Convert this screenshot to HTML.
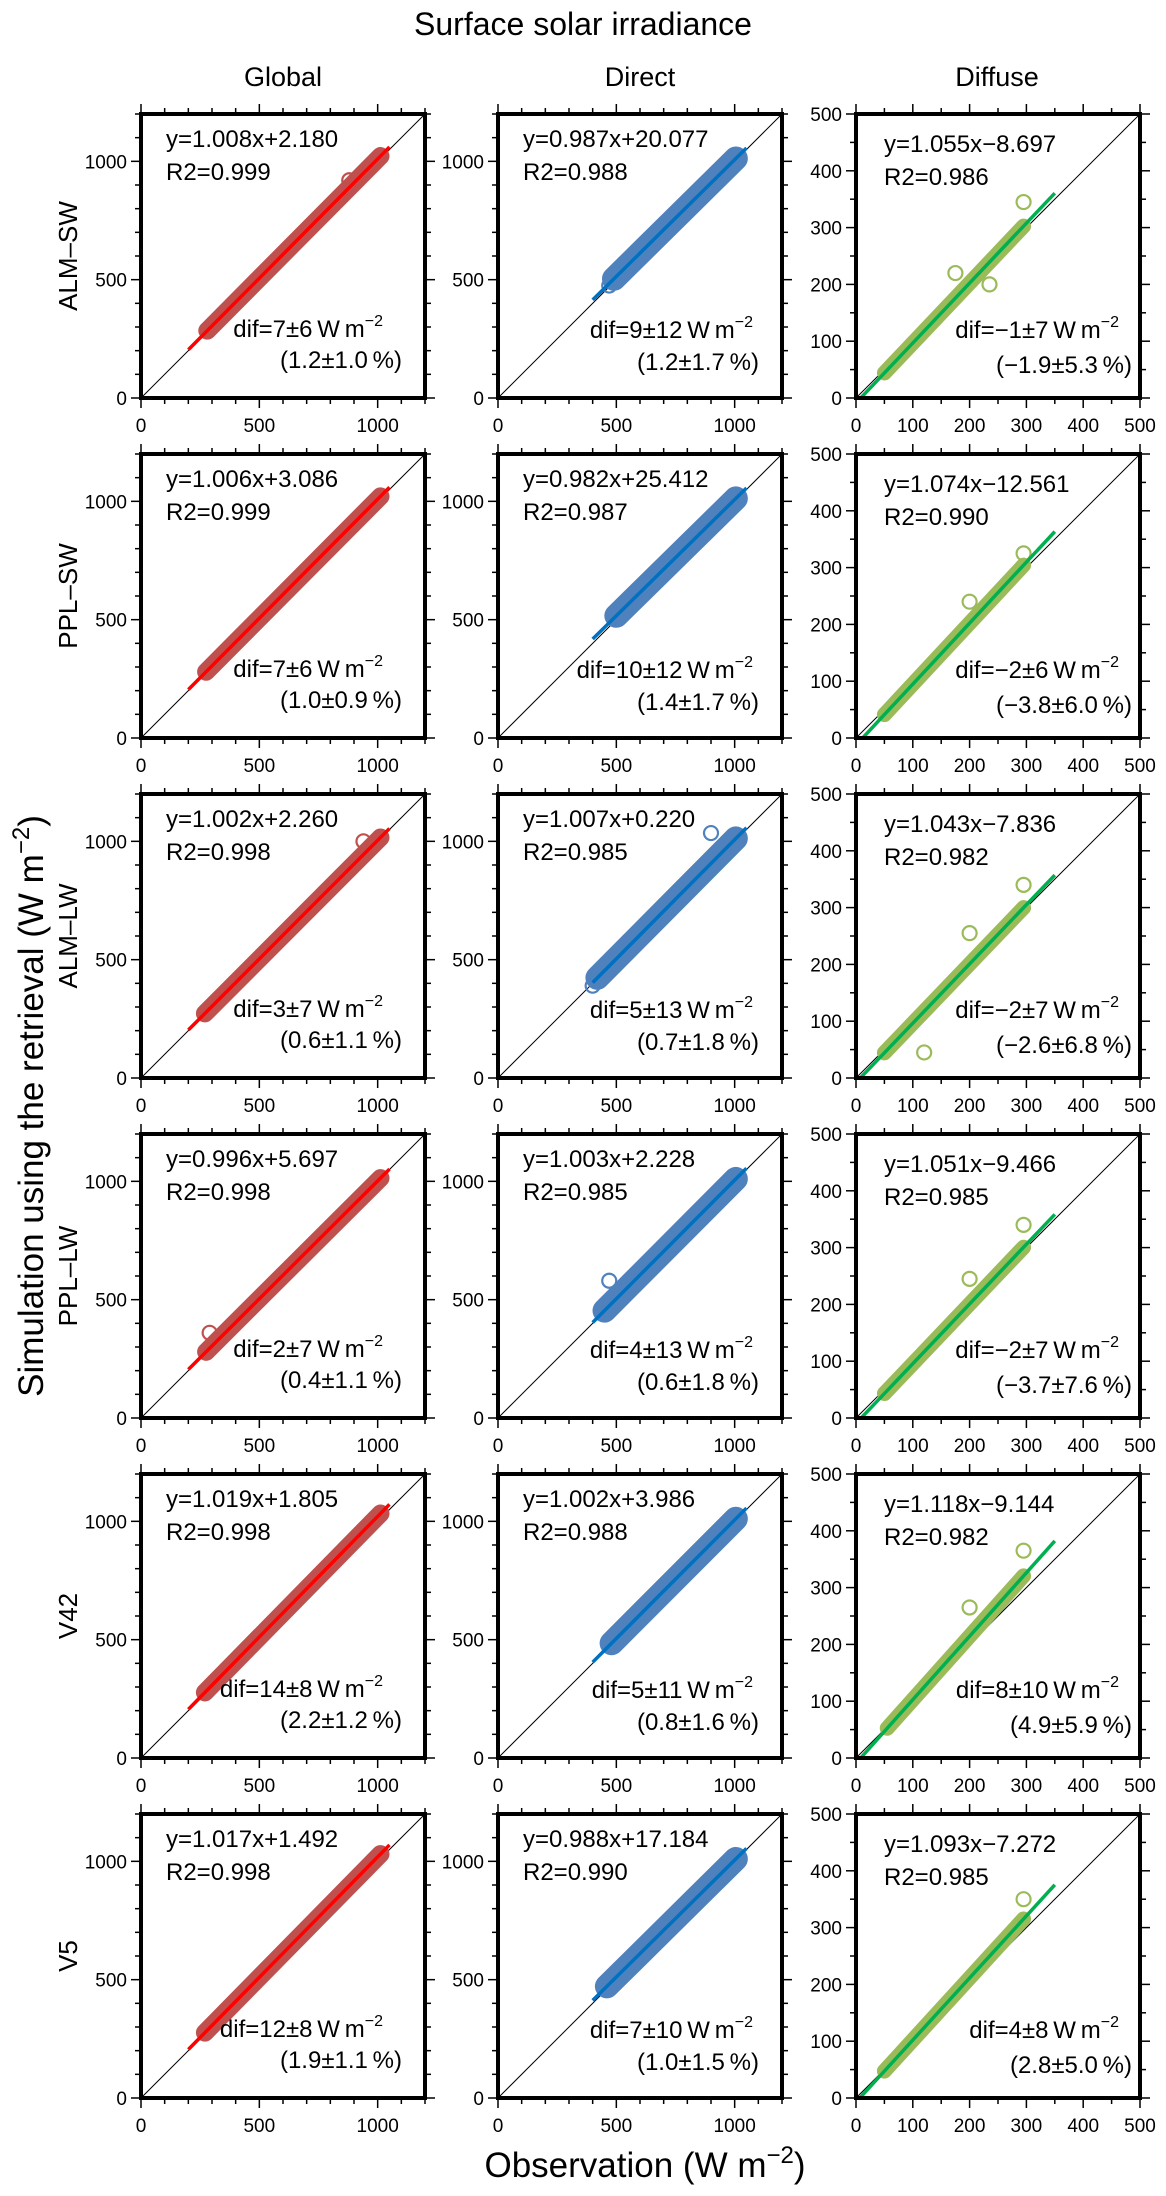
<!DOCTYPE html>
<html><head><meta charset="utf-8"><style>
html,body{margin:0;padding:0;background:#fff}
svg{display:block;font-family:"Liberation Sans",sans-serif}
</style></head><body>
<svg id="fig" width="1166" height="2196" viewBox="0 0 1166 2196" xmlns="http://www.w3.org/2000/svg">
<text x="583" y="35" font-size="32" text-anchor="middle">Surface solar irradiance</text>
<text x="283" y="86" font-size="27" text-anchor="middle">Global</text>
<text x="640" y="86" font-size="27" text-anchor="middle">Direct</text>
<text x="997" y="86" font-size="27" text-anchor="middle">Diffuse</text>
<text transform="translate(43,1106) rotate(-90)" font-size="35" text-anchor="middle">Simulation using the retrieval (W m<tspan font-size="24" dy="-14">−2</tspan><tspan dy="14">)</tspan></text>
<text x="645" y="2177" font-size="35" text-anchor="middle">Observation (W m<tspan font-size="24" dy="-14">−2</tspan><tspan dy="14">)</tspan></text>
<g id="panels"></g>
</svg>
<script>
const rowNames = ['ALM–SW','PPL–SW','ALM–LW','PPL–LW','V42','V5'];
// Global
const globalSlope = [1.008,1.006,1.002,0.996,1.019,1.017];
const globalIntercept = [2.180,3.086,2.260,5.697,1.805,1.492];
const globalR2 = ['0.999','0.999','0.998','0.998','0.998','0.998'];
const globalDif = ['7±6','7±6','3±7','2±7','14±8','12±8'];
const globalPct = ['1.2±1.0','1.0±0.9','0.6±1.1','0.4±1.1','2.2±1.2','1.9±1.1'];
const globalCloudStart = [280,275,270,275,270,270];
const globalCloudEnd = [1012,1012,1012,1012,1012,1012];
const globalOutliers = [[[880,920]],[],[[940,1000]],[[290,360]],[],[]];
// Direct
const directSlope = [0.987,0.982,1.007,1.003,1.002,0.988];
const directIntercept = [20.077,25.412,0.220,2.228,3.986,17.184];
const directR2 = ['0.988','0.987','0.985','0.985','0.988','0.990'];
const directDif = ['9±12','10±12','5±13','4±13','5±11','7±10'];
const directPct = ['1.2±1.7','1.4±1.7','0.7±1.8','0.6±1.8','0.8±1.6','1.0±1.5'];
const directCloudStart = [490,500,420,450,480,460];
const directCloudEnd = [1005,1005,1005,1005,1005,1005];
const directOutliers = [[[470,475]],[],[[900,1035],[400,390]],[[470,580]],[[470,480]],[]];
// Diffuse
const diffuseSlope = [1.055,1.074,1.043,1.051,1.118,1.093];
const diffuseIntercept = [-8.697,-12.561,-7.836,-9.466,-9.144,-7.272];
const diffuseR2 = ['0.986','0.990','0.982','0.985','0.982','0.985'];
const diffuseDif = ['−1±7','−2±6','−2±7','−2±7','8±10','4±8'];
const diffusePct = ['−1.9±5.3','−3.8±6.0','−2.6±6.8','−3.7±7.6','4.9±5.9','2.8±5.0'];
const diffuseCloudStart = [50,50,50,50,55,50];
const diffuseCloudEnd = [295,295,295,295,295,295];
const diffuseOutliers = [[[295,345],[175,220],[235,200]],[[295,325],[200,240]],[[295,340],[120,45],[200,255]],[[295,340],[200,245]],[[295,365],[200,265]],[[295,350]]];

const NS='http://www.w3.org/2000/svg';
const root=document.getElementById('panels');
function mk(tag,attrs,parent){const e=document.createElementNS(NS,tag);for(const k in attrs)e.setAttribute(k,attrs[k]);(parent||root).appendChild(e);return e;}

const colX=[141,498,856];
const SIZE=284;
const TS='\u2009';
const cols=[
 {key:'global',max:1200,major:500,minor:100,labels:[0,500,1000],cloud:'#c0504d',line:'#ff0000',lineStart:200,lineEnd:1050,band:18,
  slope:globalSlope,icpt:globalIntercept,r2:globalR2,dif:globalDif,pct:globalPct,cs:globalCloudStart,ce:globalCloudEnd,out:globalOutliers,
  eq:[25,33,66],difPos:[42,223],pctPos:[23,254]},
 {key:'direct',max:1200,major:500,minor:100,labels:[0,500,1000],cloud:'#4f81bd',line:'#0070c0',lineStart:400,lineEnd:1050,band:24,
  slope:directSlope,icpt:directIntercept,r2:directR2,dif:directDif,pct:directPct,cs:directCloudStart,ce:directCloudEnd,out:directOutliers,
  eq:[25,33,66],difPos:[29,224],pctPos:[23,256]},
 {key:'diffuse',max:500,major:100,minor:50,labels:[0,100,200,300,400,500],cloud:'#9bbb59',line:'#00b050',lineStart:0,lineEnd:350,band:15,
  slope:diffuseSlope,icpt:diffuseIntercept,r2:diffuseR2,dif:diffuseDif,pct:diffusePct,cs:diffuseCloudStart,ce:diffuseCloudEnd,out:diffuseOutliers,
  eq:[28,38,71],difPos:[21,224],pctPos:[8,259]}
];

rowNames.forEach((rn,r)=>{
  const y0=114+340*r;
  const lab=mk('text',{transform:`translate(77,${y0+SIZE/2}) rotate(-90)`,'font-size':26,'text-anchor':'middle'});
  
  
  lab.textContent=rn;
  cols.forEach((c,ci)=>{
    const x0=colX[ci];
    const sx=v=>x0+v/c.max*SIZE;
    const sy=v=>y0+SIZE-v/c.max*SIZE;
    const g=mk('g',{});
    
    
    const clipId=`clip-${ci}-${r}`;
    const cp=mk('clipPath',{id:clipId},g);
    mk('rect',{x:x0,y:y0,width:SIZE,height:SIZE},cp);
    const inner=mk('g',{'clip-path':`url(#${clipId})`},g);
    const a=c.slope[r], b=c.icpt[r];
    // 1:1 line
    const d=mk('line',{x1:sx(0),y1:sy(0),x2:sx(c.max),y2:sy(c.max),stroke:'#000','stroke-width':1},inner);
    
    
    // cloud
    const cl=mk('line',{x1:sx(c.cs[r]),y1:sy(a*c.cs[r]+b),x2:sx(c.ce[r]),y2:sy(a*c.ce[r]+b),stroke:c.cloud,'stroke-width':c.band,'stroke-linecap':'round'},inner);
    
    
    c.out[r].forEach(p=>{
      const o=mk('circle',{cx:sx(p[0]),cy:sy(p[1]),r:7,fill:'none',stroke:c.cloud,'stroke-width':2.2},inner);
      
      
    });
    // fit line
    const xs=Math.max(c.lineStart,b<0?-b/a:c.lineStart);
    const f=mk('line',{x1:sx(xs),y1:sy(a*xs+b),x2:sx(c.lineEnd),y2:sy(a*c.lineEnd+b),stroke:c.line,'stroke-width':3.5},inner);
    
    
    // ticks
    for(let v=0;v<=c.max+0.01;v+=c.minor){
      const L=(v%c.major===0)?10:6;
      mk('line',{x1:x0,y1:sy(v),x2:x0-L,y2:sy(v),stroke:'#000','stroke-width':1.5},g);
      mk('line',{x1:x0+SIZE,y1:sy(v),x2:x0+SIZE+L,y2:sy(v),stroke:'#000','stroke-width':1.5},g);
      mk('line',{x1:sx(v),y1:y0+SIZE,x2:sx(v),y2:y0+SIZE+L,stroke:'#000','stroke-width':1.5},g);
      mk('line',{x1:sx(v),y1:y0,x2:sx(v),y2:y0-L,stroke:'#000','stroke-width':1.5},g);
    }
    c.labels.forEach(v=>{
      const t1=mk('text',{x:x0-14,y:sy(v)+7,'font-size':19,'text-anchor':'end'},g);
      
      
      t1.textContent=v;
      const t2=mk('text',{x:sx(v),y:y0+SIZE+34,'font-size':19,'text-anchor':'middle'},g);
      
      
      t2.textContent=v;
    });
    const fr=mk('rect',{x:x0,y:y0,width:SIZE,height:SIZE,fill:'none',stroke:'#000','stroke-width':4},g);
    
    
    // texts
    const eqs=(b<0?'−':'+')+Math.abs(b).toFixed(3);
    const e1=mk('text',{x:x0+c.eq[0],y:y0+c.eq[1],'font-size':24},g);
    
    
    e1.textContent=`y=${a.toFixed(3)}x${eqs}`;
    const e2=mk('text',{x:x0+c.eq[0],y:y0+c.eq[2],'font-size':24},g);
    
    
    e2.textContent='R2='+c.r2[r];
    const e3=mk('text',{x:x0+SIZE-c.difPos[0],y:y0+c.difPos[1],'font-size':24,'text-anchor':'end'},g);
    
    
    e3.innerHTML=`dif=${c.dif[r]}${TS}W${TS}m<tspan font-size="16" dy="-11">−2</tspan>`;
    const e4=mk('text',{x:x0+SIZE-c.pctPos[0],y:y0+c.pctPos[1],'font-size':24,'text-anchor':'end'},g);
    
    
    e4.textContent=`(${c.pct[r]}${TS}%)`;
  });
});
</script>
</body></html>
